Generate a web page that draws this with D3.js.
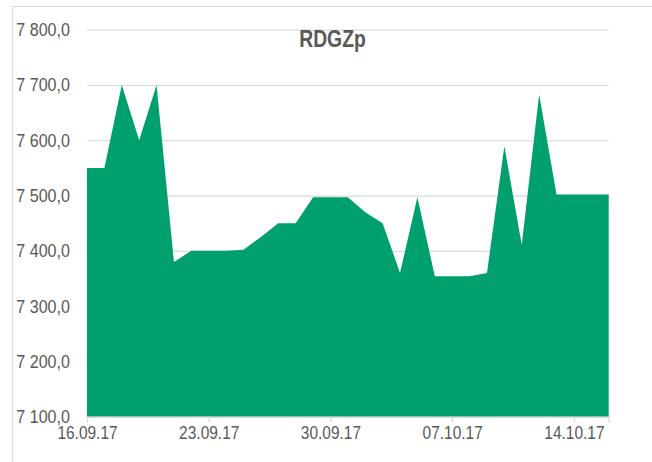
<!DOCTYPE html>
<html><head><meta charset="utf-8">
<script src="https://cdnjs.cloudflare.com/ajax/libs/d3/7.8.5/d3.min.js"></script>
<style>body{margin:0;background:#fff;}svg{display:block;}text{font-family:Arial,"Liberation Sans",sans-serif;}</style>
</head><body><svg id="c" width="652" height="462"></svg>
<script>
const title = "RDGZp";
const startDate = "2017-09-16";
const values = [7550,7550,7700,7600,7700,7380,7400,7400,7400,7402,7425,7450,7450,7497,7497,7497,7470,7450,7360,7497,7354,7354,7354,7360,7589,7411,7683,7502,7502,7502,7502];
const yTicks = [7100,7200,7300,7400,7500,7600,7700,7800];
const xTickDates = ["2017-09-16","2017-09-23","2017-09-30","2017-10-07","2017-10-14"];

const svg = d3.select("#c");
const W = 652, H = 462;
const m = {l:87, r:652-608.7, t:29.7, b:462-416.7};
const parse = d3.utcParse("%Y-%m-%d");
const d0 = parse(startDate);
const data = values.map((v,i)=>({d:d3.utcDay.offset(d0,i), v}));
const x = d3.scaleUtc().domain([data[0].d, data[data.length-1].d]).range([m.l, W-m.r]);
const y = d3.scaleLinear().domain([7100,7800]).range([H-m.b, m.t]);
const fmtY = v => { const s = v.toFixed(1).replace(".", ","); return s.replace(/^(\d)(\d{3})/, "$1 $2"); };
const fmtX = d3.utcFormat("%d.%m.%y");

// border
svg.append("rect").attr("x",12.5).attr("y",6.5).attr("width",660).attr("height",480)
  .attr("fill","none").attr("stroke","#d9d9d9").attr("stroke-width",1.2);

// gridlines
const yAxis = d3.axisLeft(y).tickValues(yTicks).tickSize(-(W-m.r-m.l)).tickFormat(fmtY).tickPadding(17);
const gy = svg.append("g").attr("transform",`translate(${m.l},0)`).call(yAxis);
gy.select(".domain").remove();
gy.selectAll(".tick line").attr("stroke","#d9d9d9").attr("stroke-width",1.2);
gy.selectAll(".tick text").attr("fill","#595959").attr("font-size",18.5);

// area
const area = d3.area().x(d=>x(d.d)).y0(y(7100)).y1(d=>y(d.v)).curve(d3.curveLinear);
svg.append("path").datum(data).attr("d",area).attr("fill","#00a06e");

// x axis
const xAxis = d3.axisBottom(x).tickValues(xTickDates.map(parse)).tickFormat(fmtX).tickSize(6).tickPadding(4);
const gx = svg.append("g").attr("transform",`translate(0,${y(7100)})`).call(xAxis);
gx.select(".domain").attr("stroke","#d9d9d9").attr("stroke-width",1.2);
gx.selectAll(".tick line").attr("stroke","#d9d9d9").attr("stroke-width",1.2);
gx.selectAll(".tick text").attr("fill","#595959").attr("font-size",17.8);

// title
svg.append("text").attr("class","title").attr("x",332.5).attr("y",47).attr("text-anchor","middle")
  .attr("font-size",23).attr("font-weight","bold").attr("fill","#595959").text(title);

// horizontally condense text like reference
svg.selectAll("text").each(function(){
  const t = d3.select(this);
  const f = t.classed("title") ? 0.84 : 0.87;
  const w = this.getComputedTextLength();
  t.attr("textLength", w*f).attr("lengthAdjust","spacingAndGlyphs");
});
</script></body></html>
